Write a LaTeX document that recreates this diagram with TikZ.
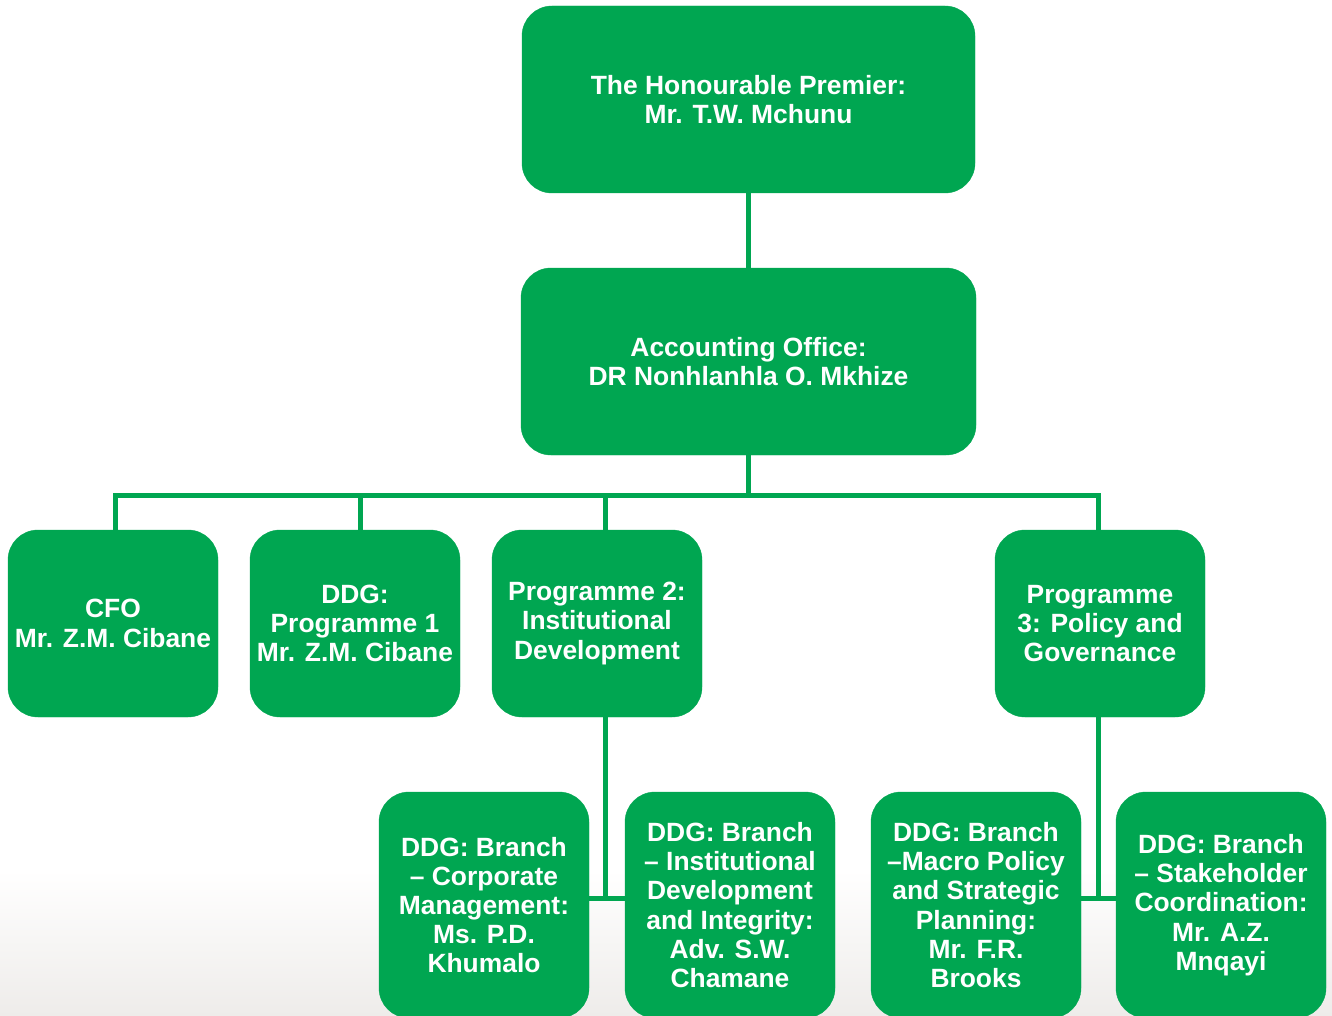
\documentclass[tikz,border=0pt]{standalone}
\usepackage{fontspec}
\setmainfont{Liberation Sans}
\usetikzlibrary{calc}
\definecolor{orggreen}{RGB}{0,166,81}
\definecolor{hazegray}{RGB}{238,236,234}
\begin{document}
\begin{tikzpicture}[x=1pt,y=-1pt,
  orgbox/.style={rectangle, rounded corners=30pt, fill=orggreen, draw=orggreen,
    text=white, align=center, inner sep=0pt,
    font=\fontsize{26.4}{29.2}\selectfont\bfseries},
  bigbox/.style={orgbox, minimum width=453pt, minimum height=187pt},
  midbox/.style={orgbox, minimum width=210pt, minimum height=187pt},
  lowbox/.style={orgbox, minimum width=210pt, minimum height=226pt},
  link/.style={draw=orggreen, line width=5pt}]
\useasboundingbox (0,0) rectangle (1332,1016);
\clip (0,0) rectangle (1332,1016);
\shade[top color=white, bottom color=hazegray] (0,870) rectangle (1332,1016);

% top levels
\node[bigbox] (prem) at (748.5,99.5) {The Honourable Premier:\\Mr. T.W. Mchunu};
\node[bigbox, minimum width=455pt] (acc) at (748.5,361.5) {Accounting Office:\\DR Nonhlanhla O. Mkhize};

% second row
\node[midbox] (cfo) at (113,623.5) {CFO\\Mr. Z.M. Cibane};
\node[midbox] (ddg) at (355,623.5) {DDG:\\Programme 1\\Mr. Z.M. Cibane};
\node[midbox] (p2) at (597,623.5) {Programme 2:\\Institutional\\Development};
\node[midbox] (p3) at (1100,623.5) {Programme\\3: Policy and\\Governance};

% third row
\node[lowbox] (b1) at (484,905) {DDG: Branch\\– Corporate\\Management:\\Ms. P.D.\\Khumalo};
\node[lowbox] (b2) at (730,905) {DDG: Branch\\– Institutional\\Development\\and Integrity:\\Adv. S.W.\\Chamane};
\node[lowbox] (b3) at (976,905) {DDG: Branch\\–Macro Policy\\and Strategic\\Planning:\\Mr. F.R.\\Brooks};
\node[lowbox] (b4) at (1221,905) {DDG: Branch\\– Stakeholder\\Coordination:\\Mr. A.Z.\\Mnqayi};

% bus coordinates
\coordinate (busL) at (115,495.5);
\coordinate (busR) at (1098.5,495.5);
\coordinate (dcfo) at (115,495.5);
\coordinate (dddg) at (360,495.5);
\coordinate (dp2) at (605,495.5);
\coordinate (dp3) at (1098.5,495.5);
\coordinate (s2) at (605,717);
\coordinate (j2) at (605,898);
\coordinate (s3) at (1098.5,717);
\coordinate (j3) at (1098.5,898);

% connectors
\draw[link] (prem.south) -- (acc.north);
\draw[link] (acc.south) -- (acc.south |- busL);
\draw[link, line cap=rect] (busL) -- (busR);
\draw[link] (dcfo) -- (dcfo |- cfo.north);
\draw[link] (dddg) -- (dddg |- ddg.north);
\draw[link] (dp2) -- (dp2 |- p2.north);
\draw[link] (dp3) -- (dp3 |- p3.north);
\draw[link] (s2) -- (j2);
\draw[link] (b1.east |- j2) -- (b2.west |- j2);
\draw[link] (s3) -- (j3);
\draw[link] (b3.east |- j3) -- (b4.west |- j3);
\end{tikzpicture}
\end{document}
